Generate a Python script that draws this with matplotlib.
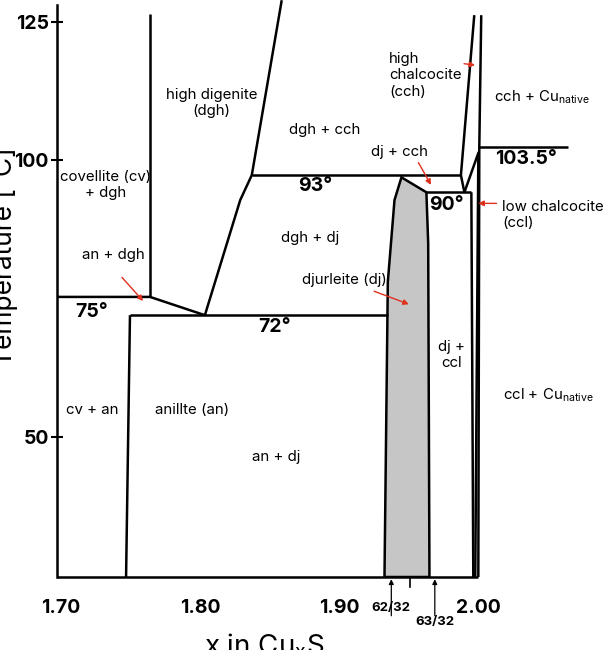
import matplotlib
matplotlib.use("Agg")
import matplotlib.pyplot as plt

plt.rcParams["font.family"] = ["Inter", "DejaVu Sans"]

# phase boundaries (x in CuxS, temperature in degC)
xmin, xmax = 1.6975, 2.07
tmin, tmax = 24.7, 128.0

cv_line_x = [1.7642, 1.7642]
cv_line_t = [75.3, 126.4]
h75_x = [xmin, 1.7642, 1.8036]
h75_t = [75.3, 75.3, 72.0]
h72_x = [1.7498, 1.9348]
h72_t = [72.0, 72.0]
an_x = [1.7498, 1.7470]
an_t = [72.0, tmin]
dgh_x = [1.8036, 1.8290, 1.8373, 1.8588]
dgh_t = [72.0, 92.8, 97.3, 128.9]
h93_x = [1.8373, 1.9875]
h93_t = [97.3, 97.3]
cch_x = [1.9875, 1.9971]
cch_t = [97.3, 126.2]
dj_cch_x = [1.9875, 1.9900]
dj_cch_t = [97.3, 94.2]
h90_x = [1.9627, 1.9950]
h90_t = [94.2, 94.2]
ccl_left_x = [1.9950, 1.9964]
ccl_left_t = [94.2, tmin]
diag_x = [1.9900, 2.0003]
diag_t = [94.2, 101.5]
ccl_mid_x = [2.0000, 1.9978]
ccl_mid_t = [100.5, tmin]
cu_x = [2.0021, 2.0007, 2.0000]
cu_t = [126.2, 102.3, tmin]
h1035_x = [2.0007, 2.0645]
h1035_t = [102.3, 102.3]

# djurleite field
dj_x = [1.9448, 1.9398, 1.9350, 1.9326, 1.9649, 1.9640, 1.9627, 1.9448]
dj_t = [96.9, 92.8, 78.0, tmin, tmin, 85.0, 94.2, 96.9]

xticks = [1.70, 1.80, 1.90, 2.00]
xticklabels = ["1.70", "1.80", "1.90", "2.00"]
yticks = [50, 100, 125]

labels = [
    (1.8086, 110.3, "high digenite\n(dgh)", "center", False),
    (1.8896, 105.4, "dgh + cch", "center", False),
    (1.7320, 95.5, "covellite (cv)\n+ dgh", "center", False),
    (1.7377, 82.9, "an + dgh", "center", False),
    (1.7226, 72.6, "75°", "center", True),
    (1.8538, 69.9, "72°", "center", True),
    (1.8830, 95.3, "93°", "center", True),
    (1.8790, 85.9, "dgh + dj", "center", False),
    (1.9040, 78.3, "djurleite (dj)", "center", False),
    (1.9434, 101.4, "dj + cch", "center", False),
    (1.9360, 115.3, "high\nchalcocite\n(cch)", "left", False),
    (2.0115, 111.4, "cch + Cu$_{\\mathregular{native}}$", "left", False),
    (2.0344, 100.2, "103.5°", "center", True),
    (1.9770, 91.9, "90°", "center", True),
    (2.0172, 90.1, "low chalcocite\n(ccl)", "left", False),
    (1.9810, 64.8, "dj +\nccl", "center", False),
    (2.0180, 57.6, "ccl + Cu$_{\\mathregular{native}}$", "left", False),
    (1.7226, 54.9, "cv + an", "center", False),
    (1.7943, 54.9, "anillte (an)", "center", False),
    (1.8550, 46.4, "an + dj", "center", False),
]

red_arrows = [
    ((1.7427, 79.2), (1.7606, 74.2)),
    ((1.9233, 76.5), (1.9520, 73.8)),
    ((1.9560, 100.0), (1.9670, 95.1)),
    ((1.9878, 117.5), (1.9996, 117.1)),
    ((2.0150, 92.2), (1.9980, 92.2)),
]

fig = plt.figure(figsize=(6.08, 6.5), dpi=100)
ax = fig.add_axes([0.094, 0.1123, 0.853, 0.8797])
ax.set_xlim(xmin, xmax)
ax.set_ylim(tmin, tmax)

ax.fill(dj_x, dj_t, color="#c6c6c6", edgecolor="black", linewidth=1.8, zorder=2)
lw = 1.8
for xs, ts in [(cv_line_x, cv_line_t), (h75_x, h75_t), (h72_x, h72_t), (an_x, an_t),
               (dgh_x, dgh_t), (h93_x, h93_t), (cch_x, cch_t), (dj_cch_x, dj_cch_t),
               (h90_x, h90_t), (ccl_left_x, ccl_left_t), (diag_x, diag_t),
               (ccl_mid_x, ccl_mid_t), (cu_x, cu_t), (h1035_x, h1035_t),
               ([xmin, 2.0], [tmin, tmin])]:
    ax.plot(xs, ts, color="black", linewidth=lw, solid_capstyle="butt", zorder=3, clip_on=False)

for x, t, s, ha, bold in labels:
    if bold:
        ax.text(x, t, s, ha=ha, va="center", fontsize=14, fontweight="bold")
    else:
        ax.text(x, t, s, ha=ha, va="center", fontsize=10.8, linespacing=1.2)

for start, end in red_arrows:
    ax.annotate("", xy=end, xytext=start,
                arrowprops=dict(arrowstyle="-|>", color="#e0301e", lw=1.0, mutation_scale=8))

# fraction markers below the axis
for xv, lab, dy in [(1.9375, "62/32", 0.055), (1.96875, "63/32", 0.078)]:
    ax.annotate("", xy=(xv, tmin - 0.4), xycoords="data",
                xytext=(xv, tmin - 7.0), textcoords="data", annotation_clip=False,
                arrowprops=dict(arrowstyle="-|>", color="black", lw=0.9,
                                mutation_scale=7, shrinkA=0, shrinkB=0))
    ax.text(xv, -dy, lab, transform=ax.get_xaxis_transform(), ha="center", va="center",
            fontsize=9.5, fontweight="bold")
ax.plot([1.951, 1.951], [tmin, tmin - 1.8], color="black", lw=1.2, clip_on=False)

for sp in ["top", "right", "bottom"]:
    ax.spines[sp].set_visible(False)
ax.spines["left"].set_linewidth(lw)

ax.set_xticks(xticks)
ax.set_xticklabels(xticklabels, fontsize=14, fontweight="bold")
ax.set_yticks(yticks)
ax.set_yticklabels([str(v) for v in yticks], fontsize=14, fontweight="bold")
ax.tick_params(axis="x", length=0, pad=16)
ax.tick_params(axis="y", direction="inout", length=8, width=1.5, pad=2)

ax.set_xlabel("x in Cu$_{\\mathregular{x}}$S", fontsize=20)
ax.xaxis.set_label_coords(0.40, -0.095)
ax.set_ylabel("Temperature [°C]", fontsize=19)
ax.yaxis.set_label_coords(-0.075, 0.56)

fig.savefig("out.png", dpi=100)
